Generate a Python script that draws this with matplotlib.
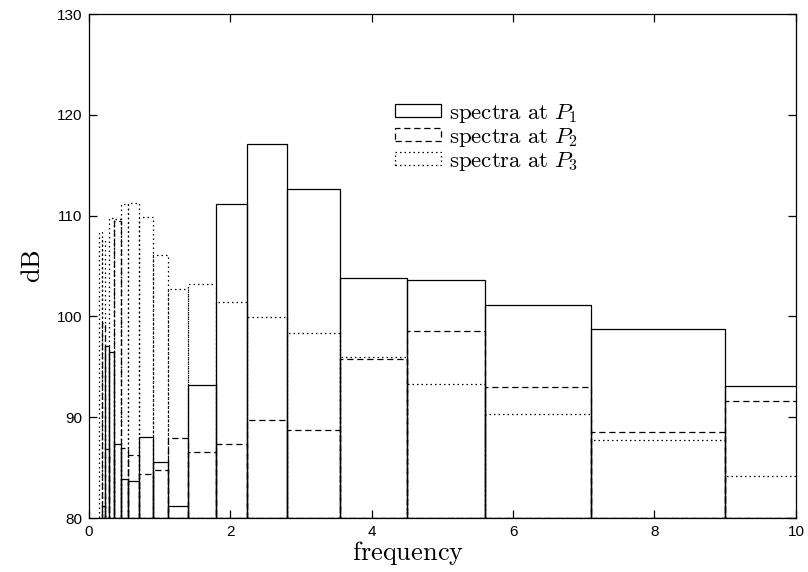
import matplotlib
matplotlib.use("Agg")
import matplotlib.pyplot as plt
from matplotlib.patches import Patch
import numpy as np

# third-octave band edges (frequency axis)
band_edges = [0.11, 0.14, 0.18, 0.224, 0.28, 0.355, 0.45, 0.56, 0.71, 0.9,
              1.12, 1.4, 1.8, 2.24, 2.8, 3.55, 4.5, 5.6, 7.1, 9.0, 11.2]

nan = np.nan
# band levels in dB, one value per band
p1_db = [nan, nan, 81.2, 97.1, 96.5, 87.3, 83.9, 83.7, 88.0, 85.6,
         81.2, 93.2, 111.2, 117.1, 112.6, 103.8, 103.6, 101.1, 98.8, 93.1]
p2_db = [nan, nan, 99.3, 86.8, 86.1, 109.5, 86.9, 86.3, 84.4, 84.8,
         87.9, 86.5, 87.3, 89.7, 88.7, 95.8, 98.6, 93.0, 88.5, 91.6]
p3_db = [nan, 108.4, 107.6, nan, 109.8, 109.7, 111.2, 111.3, 109.9, 106.1,
         102.7, 103.2, 101.4, 99.9, 98.4, 96.0, 93.3, 90.3, 87.7, 84.2]

labels = [r"$\mathrm{spectra\ at}\ P_1$",
          r"$\mathrm{spectra\ at}\ P_2$",
          r"$\mathrm{spectra\ at}\ P_3$"]
styles = ["-", (0, (5, 3)), (0, (1.2, 2.4))]

y_floor = 80

plt.rcParams["mathtext.fontset"] = "cm"
plt.rcParams["font.family"] = ["Liberation Sans", "DejaVu Sans"]

fig = plt.figure(figsize=(8.08, 5.72), dpi=100)
ax = fig.add_axes([0.110, 0.0944, 0.875, 0.881])

edges = np.array(band_edges)
lefts = edges[:-1]
widths = np.diff(edges)

for series, ls in zip([p1_db, p2_db, p3_db], styles):
    vals = np.array(series)
    ok = ~np.isnan(vals)
    ax.bar(lefts[ok], vals[ok] - y_floor, width=widths[ok], bottom=y_floor,
           align="edge", fill=False, edgecolor="black", linewidth=0.9,
           linestyle=ls)

ax.set_xlim(0, 10)
ax.set_ylim(80, 130)
ax.set_xticks(range(0, 11, 2))
ax.set_yticks(range(80, 131, 10))
ax.tick_params(direction="in", top=True, right=True, length=6, width=0.9,
               labelsize=11, pad=5)
for s in ax.spines.values():
    s.set_linewidth(0.9)

ax.set_xlabel(r"$\mathrm{frequency}$", fontsize=19)
ax.xaxis.set_label_coords(0.451, -0.041)
ax.set_ylabel(r"$\mathrm{dB}$", fontsize=19, labelpad=8)

handles = [Patch(facecolor="none", edgecolor="black", linewidth=0.9,
                 linestyle=ls) for ls in styles]
ax.legend(handles, labels, loc="upper left", bbox_to_anchor=(0.417, 0.851),
          frameon=False, fontsize=16.5, handlelength=2.0, handleheight=0.5,
          handletextpad=0.35, labelspacing=0.0, borderpad=0)

fig.savefig("out.png", dpi=100)
